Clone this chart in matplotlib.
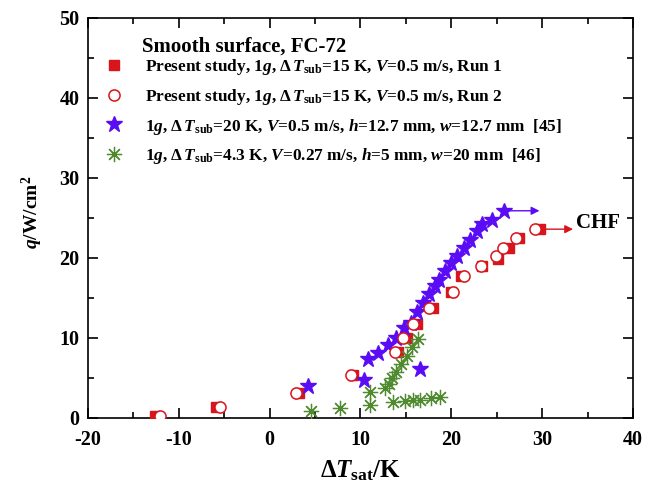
import matplotlib
matplotlib.use("Agg")
import matplotlib.pyplot as plt
from matplotlib.ticker import MultipleLocator

plt.rcParams['font.family'] = 'Liberation Serif'
plt.rcParams['font.weight'] = 'bold'
plt.rcParams['axes.labelweight'] = 'bold'
plt.rcParams['axes.unicode_minus'] = False
plt.rcParams['mathtext.fontset'] = 'custom'
plt.rcParams['mathtext.rm'] = 'Liberation Serif:bold'
plt.rcParams['mathtext.it'] = 'Liberation Serif:italic:bold'
plt.rcParams['mathtext.bf'] = 'Liberation Serif:bold'

# Present study, run 1 (filled squares)
run1_dt = [-12.6, -5.9, 3.2, 9.2, 14.1, 15.1, 16.2, 18.0, 20.0, 21.1, 23.4, 25.1, 26.4, 27.5, 29.8]
run1_q = [0.3, 1.4, 3.1, 5.4, 8.3, 10.0, 11.8, 13.8, 15.7, 17.8, 19.0, 19.9, 21.3, 22.5, 23.6]

# Present study, run 2 (open circles)
run2_dt = [-12.1, -5.5, 2.9, 9.0, 13.8, 14.7, 15.8, 17.5, 20.2, 21.4, 23.3, 24.9, 25.7, 27.1, 29.2]
run2_q = [0.3, 1.4, 3.1, 5.4, 8.3, 10.0, 11.8, 13.8, 15.7, 17.8, 19.0, 20.2, 21.3, 22.5, 23.6]

# Ref [45]
ref45_dt = [4.2, 10.4, 10.8, 11.9, 13.0, 13.9, 14.8, 15.6, 16.2, 16.5, 16.9, 17.5, 18.2,
            18.6, 19.3, 20.0, 20.6, 21.4, 22.1, 22.8, 23.4, 24.5, 25.85]
ref45_q = [4.0, 4.8, 7.4, 8.1, 9.1, 10.0, 11.3, 11.9, 13.2, 6.1, 14.4, 15.5, 16.5,
           17.3, 18.4, 19.4, 20.3, 21.2, 22.3, 23.4, 24.25, 24.7, 25.9]

# Ref [46]
ref46_dt = [4.6, 7.7, 11.0, 11.1, 12.7, 13.1, 13.5, 13.9, 14.5, 15.1, 15.7, 16.3,
            13.6, 14.9, 15.8, 16.6, 17.8, 18.7]
ref46_q = [0.9, 1.25, 3.2, 1.6, 3.8, 4.3, 5.0, 5.8, 6.75, 7.7, 8.9, 9.9,
           2.0, 2.1, 2.25, 2.3, 2.45, 2.6]

# CHF arrows: (start, end, level)
chf_red = (30.4, 33.4, 23.6)
chf_blue = (26.4, 29.7, 25.9)

red = '#d8141c'
blue = '#5a0cf5'
green = '#4f8a2e'

dT_sub = r'$\Delta\,\it{T}_{\rm sub}$'

fig = plt.figure(figsize=(6.56, 4.86), dpi=100)
ax = fig.add_axes([0.134, 0.14, 0.831, 0.823])

ax.plot(run1_dt, run1_q, 's', ms=7.5, color=red, mec=red, zorder=3,
        label='Present study, 1$\\it{g}$, ' + dT_sub + r'=15 K, $\it{V}$=0.5 m/s, Run 1')
ax.plot(run2_dt, run2_q, 'o', ms=8, mfc='white', mec=red, mew=1.1, zorder=4,
        label='Present study, 1$\\it{g}$, ' + dT_sub + r'=15 K, $\it{V}$=0.5 m/s, Run 2')
ax.plot(ref45_dt, ref45_q, '*', ms=12, color=blue, zorder=3,
        label='1$\\it{g}$, ' + dT_sub + r'=20 K, $\it{V}$=0.5 m/s, $\it{h}$=12.7 mm, $\it{w}$=12.7 mm  [45]')
ax.plot(ref46_dt, ref46_q, ls='none', marker=(8, 2, 0), ms=11, mec=green, mew=0.9, zorder=3,
        label='1$\\it{g}$, ' + dT_sub + r'=4.3 K, $\it{V}$=0.27 m/s, $\it{h}$=5 mm, $\it{w}$=20 mm  [46]')
ax.plot(ref46_dt, ref46_q, '.', ms=2.5, color=green, zorder=3)

ax.annotate('', xy=(chf_red[1], chf_red[2]), xytext=(chf_red[0], chf_red[2]),
            arrowprops=dict(arrowstyle='-|>', color=red, lw=1, mutation_scale=12,
                            shrinkA=0, shrinkB=0))
ax.annotate('', xy=(chf_blue[1], chf_blue[2]), xytext=(chf_blue[0], chf_blue[2]),
            arrowprops=dict(arrowstyle='-|>', color=blue, lw=1, mutation_scale=12,
                            shrinkA=0, shrinkB=0))
ax.text(chf_red[1] + 0.3, chf_red[2] + 0.8, 'CHF', fontsize=15, fontweight='bold',
        va='center', ha='left')

ax.set_xlim(-20, 40)
ax.set_ylim(0, 50)
ax.xaxis.set_major_locator(MultipleLocator(10))
ax.xaxis.set_minor_locator(MultipleLocator(5))
ax.yaxis.set_major_locator(MultipleLocator(10))
ax.yaxis.set_minor_locator(MultipleLocator(5))
ax.tick_params(which='both', direction='in', top=True, right=True, width=1.2)
ax.tick_params(which='major', length=7, labelsize=14.5)
ax.tick_params(axis='x', which='major', pad=9)
ax.tick_params(axis='y', which='major', pad=6)
ax.tick_params(which='minor', length=4)
for s in ax.spines.values():
    s.set_linewidth(1.2)
for lbl in ax.get_xticklabels() + ax.get_yticklabels():
    lbl.set_fontweight('bold')

ax.set_xlabel(r'$\Delta\it{T}_{\rm sat}$/K', fontsize=18, labelpad=6)
ax.set_ylabel(r'$\it{q}$/W/cm$^{2}$', fontsize=14)
ax.yaxis.set_label_coords(-0.078, 0.515)

ax.text(0.1, 0.928, 'Smooth surface, FC-72', transform=ax.transAxes,
        fontsize=15, fontweight='bold', va='center')
ax.legend(loc='upper left', bbox_to_anchor=(0.01, 0.932), frameon=False,
          prop={'size': 12.4, 'weight': 'bold'}, handletextpad=1.3, labelspacing=0.56,
          handlelength=1.0, borderaxespad=0.3, numpoints=1)

fig.savefig('out.png', dpi=100)
